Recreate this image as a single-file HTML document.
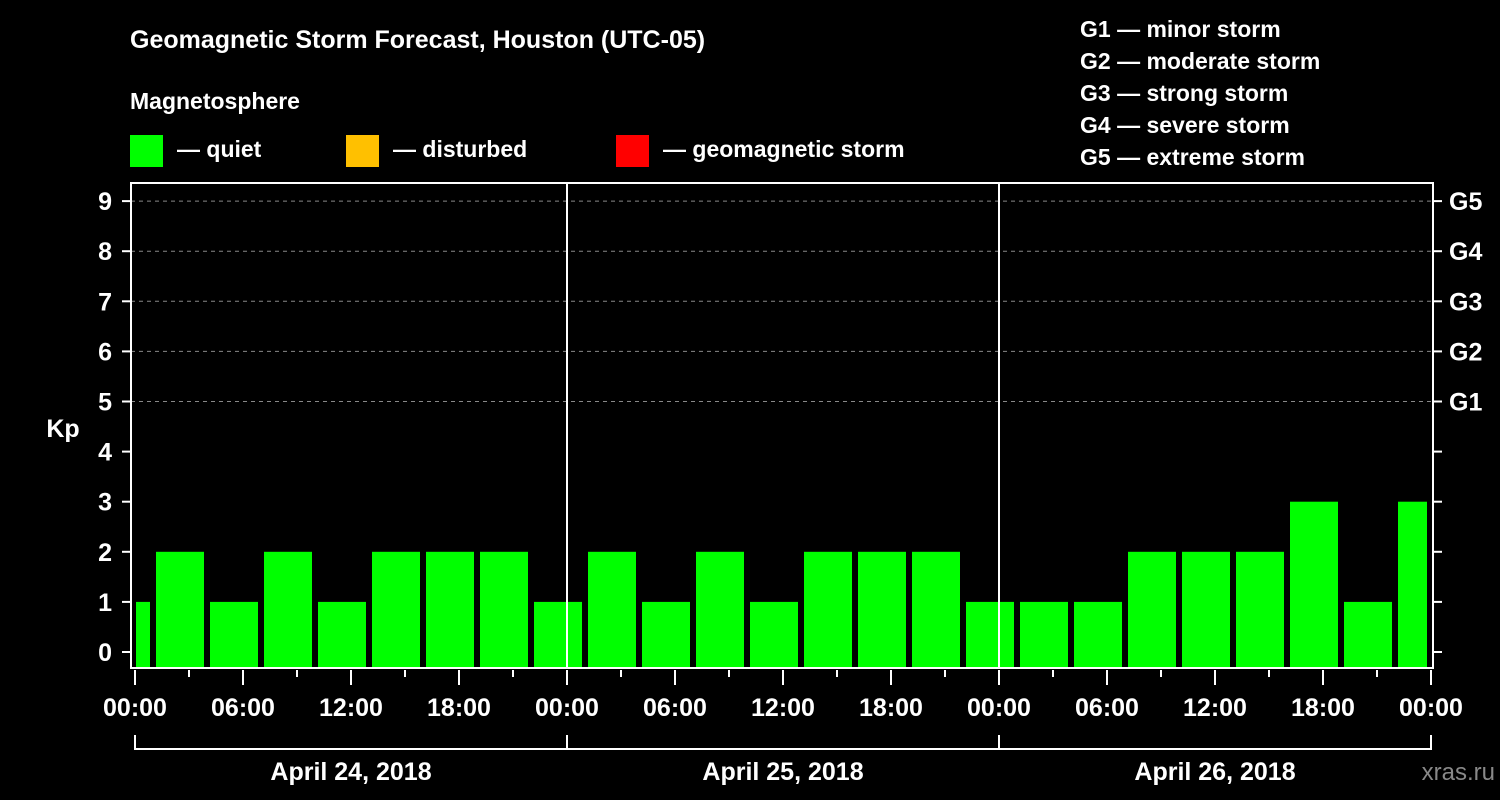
<!DOCTYPE html>
<html><head><meta charset="utf-8"><style>
body{margin:0;background:#000;}
svg{display:block;font-family:"Liberation Sans",Arial,sans-serif;font-weight:bold;}
</style></head><body>
<svg width="1500" height="800" viewBox="0 0 1500 800">
<rect width="1500" height="800" fill="#000"/>
<text x="130" y="48" fill="#fff" font-size="25">Geomagnetic Storm Forecast, Houston (UTC-05)</text>
<text x="130" y="109" fill="#fff" font-size="23">Magnetosphere</text>
<g><rect x="130" y="135" width="33" height="32" fill="#00ff00"/><text x="177" y="157" fill="#fff" font-size="23">— quiet</text></g>
<g><rect x="346" y="135" width="33" height="32" fill="#ffc000"/><text x="393" y="157" fill="#fff" font-size="23">— disturbed</text></g>
<g><rect x="616" y="135" width="33" height="32" fill="#ff0000"/><text x="663" y="157" fill="#fff" font-size="23">— geomagnetic storm</text></g>
<g fill="#fff" font-size="23">
<text x="1080" y="37">G1 — minor storm</text>
<text x="1080" y="69">G2 — moderate storm</text>
<text x="1080" y="101">G3 — strong storm</text>
<text x="1080" y="133">G4 — severe storm</text>
<text x="1080" y="165">G5 — extreme storm</text>
</g>
<text x="63" y="437" fill="#fff" font-size="25" text-anchor="middle">Kp</text>
<text x="1495" y="780" fill="#888" font-size="24" text-anchor="end" font-weight="normal">xras.ru</text>
<g id="grid"></g>
<g id="bars"></g>
<g id="axes"></g>
</svg>
<script>
const kpValues=[1,2,1,2,1,2,2,2,1,2,1,2,1,2,2,2,1,1,1,2,2,2,3,1,3];
const barStartHours=[-2,1,4,7,10,13,16,19,22,25,28,31,34,37,40,43,46,49,52,55,58,61,64,67,70];
const yTicks=[0,1,2,3,4,5,6,7,8,9];
const gLevels=["G1","G2","G3","G4","G5"];
const xTickLabels=["00:00","06:00","12:00","18:00","00:00","06:00","12:00","18:00","00:00","06:00","12:00","18:00","00:00"];
const dayLabels=["April 24, 2018","April 25, 2018","April 26, 2018"];
const NS="http://www.w3.org/2000/svg";
const X0=135,PXH=18,L=131,R=1433,T=183,B=668;
const xs=h=>X0+PXH*h;
const ys=v=>652-50.1*v;
function mk(tag,attrs,parent,txt){const e=document.createElementNS(NS,tag);for(const k in attrs)e.setAttribute(k,attrs[k]);if(txt!==undefined)e.textContent=txt;parent.appendChild(e);return e;}
const grid=document.getElementById('grid'),bars=document.getElementById('bars'),axes=document.getElementById('axes');
for(let v=5;v<=9;v++){const l=mk('line',{x1:L,x2:R,y1:ys(v),y2:ys(v),stroke:'#888','stroke-dasharray':'4,4','stroke-width':1},grid);

}
kpValues.forEach((v,i)=>{let x1=xs(barStartHours[i])+3,x2=xs(barStartHours[i]+3)-3;x1=Math.max(x1,L+5);x2=Math.min(x2,R-6);
const r=mk('rect',{x:x1,y:ys(v),width:x2-x1,height:B-ys(v),fill:v>=5?'#ff0000':(v>=4?'#ffc000':'#00ff00')},bars);

});
mk('rect',{x:L,y:T,width:R-L,height:B-T,fill:'none',stroke:'#fff','stroke-width':2},axes);
[1,2].forEach(d=>{const l=mk('line',{x1:xs(24*d),x2:xs(24*d),y1:T,y2:B,stroke:'#fff','stroke-width':2},axes);

});
yTicks.forEach(v=>{mk('line',{x1:122,x2:L,y1:ys(v),y2:ys(v),stroke:'#fff','stroke-width':2},axes);
mk('line',{x1:R,x2:1442,y1:ys(v),y2:ys(v),stroke:'#fff','stroke-width':2},axes);
const t=mk('text',{x:112,y:ys(v)+9,fill:'#fff','font-size':25,'text-anchor':'end'},axes,String(v));

});
gLevels.forEach((g,i)=>{const t=mk('text',{x:1449,y:ys(5+i)+9,fill:'#fff','font-size':25},axes,g);

});
for(let h=0;h<=72;h+=3){const major=h%6===0;mk('line',{x1:xs(h),x2:xs(h),y1:B+2,y2:major?685:677,stroke:'#fff','stroke-width':2},axes);}
xTickLabels.forEach((s,i)=>{const t=mk('text',{x:xs(6*i),y:716,fill:'#fff','font-size':25,'text-anchor':'middle'},axes,s);

});
mk('line',{x1:xs(0),x2:xs(72),y1:749,y2:749,stroke:'#fff','stroke-width':2},axes);
for(let d=0;d<=3;d++)mk('line',{x1:xs(24*d),x2:xs(24*d),y1:735,y2:750,stroke:'#fff','stroke-width':2},axes);
dayLabels.forEach((s,i)=>{const t=mk('text',{x:xs(24*i+12),y:780,fill:'#fff','font-size':25,'text-anchor':'middle'},axes,s);

});
</script>
</body></html>
